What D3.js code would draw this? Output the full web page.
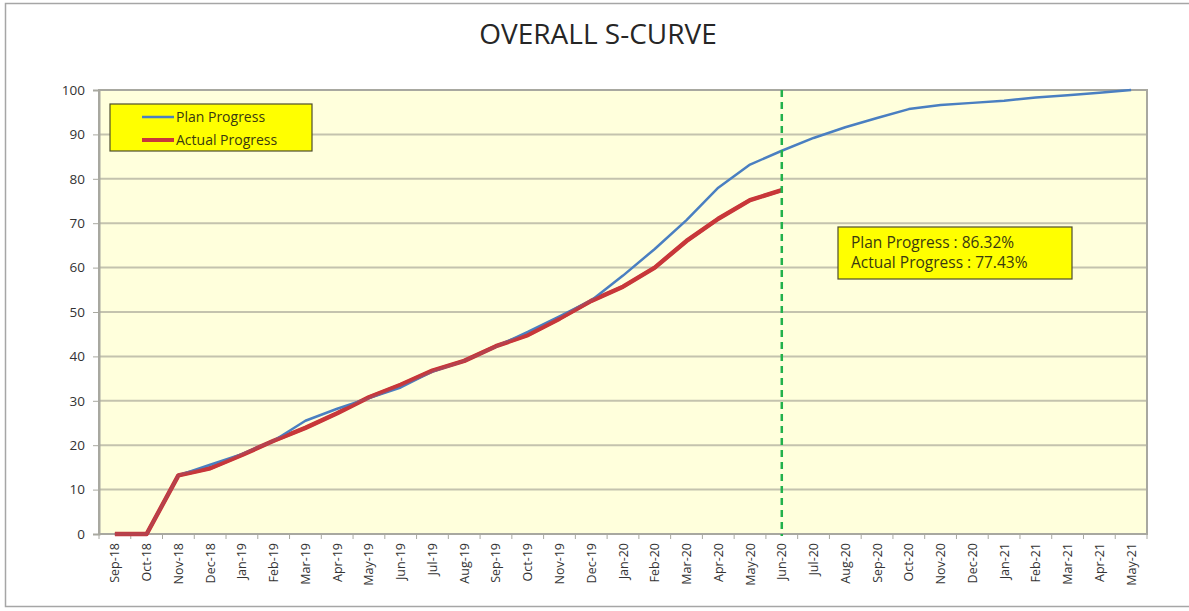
<!DOCTYPE html>
<html>
<head>
<meta charset="utf-8">
<script src="https://cdn.jsdelivr.net/npm/d3@7"></script>
<style>
  html, body { margin: 0; padding: 0; background: #fff; }
  svg { display: block; font-family: "Open Sans", "Liberation Sans", sans-serif; }
</style>
</head>
<body>
<svg id="chart" width="1189" height="611"></svg>
<script>
// Month categories on the x axis
const months = [
  "Sep-18","Oct-18","Nov-18","Dec-18","Jan-19","Feb-19","Mar-19","Apr-19","May-19",
  "Jun-19","Jul-19","Aug-19","Sep-19","Oct-19","Nov-19","Dec-19","Jan-20","Feb-20",
  "Mar-20","Apr-20","May-20","Jun-20","Jul-20","Aug-20","Sep-20","Oct-20","Nov-20",
  "Dec-20","Jan-21","Feb-21","Mar-21","Apr-21","May-21"
];

// Cumulative planned progress (%)
const planProgress = [
  0, 0, 13.2, 15.6, 18.0, 21.0, 25.5, 28.2, 30.6, 33.0, 36.6, 39.0,
  42.2, 45.5, 49.0, 52.6, 58.2, 64.2, 70.7, 78.0, 83.2, 86.32,
  89.2, 91.6, 93.7, 95.7, 96.6, 97.1, 97.6, 98.3, 98.8, 99.4, 100
];

// Cumulative actual progress (%), reported up to the cut-off month
const actualProgress = [
  0, 0, 13.2, 14.8, 17.8, 21.0, 23.9, 27.2, 30.8, 33.6, 36.8, 39.0,
  42.3, 44.8, 48.5, 52.5, 55.7, 60.0, 66.0, 71.0, 75.2, 77.43
];

const yTicks = [0, 10, 20, 30, 40, 50, 60, 70, 80, 90, 100];
const cutoffMonth = "Jun-20";
const seriesNames = ["Plan Progress", "Actual Progress"];
const summaryLines = [
  "Plan Progress : " + planProgress[months.indexOf(cutoffMonth)].toFixed(2) + "%",
  "Actual Progress : " + actualProgress[months.indexOf(cutoffMonth)].toFixed(2) + "%"
];

const svg = d3.select("#chart");
const W = 1189, H = 611;
const plot = { left: 99, top: 90, right: 1147, bottom: 534 };

// Outer chart frame
svg.append("rect")
  .attr("x", 5.5).attr("y", 3.5).attr("width", W).attr("height", 603)
  .attr("fill", "#fff").attr("stroke", "#a6a6a6").attr("stroke-width", 1.5);

// Title
svg.append("text")
  .attr("x", 598).attr("y", 44)
  .attr("text-anchor", "middle")
  .attr("font-size", 28)
  .attr("fill", "#262626")
  .text("OVERALL S-CURVE");

const x = d3.scaleBand().domain(months).range([plot.left, plot.right]).padding(0);
const xc = d => x(d) + x.bandwidth() / 2;
const y = d3.scaleLinear().domain([0, 100]).range([plot.bottom, plot.top]);

// Plot area background
svg.append("rect")
  .attr("x", plot.left).attr("y", plot.top)
  .attr("width", plot.right - plot.left).attr("height", plot.bottom - plot.top)
  .attr("fill", "#ffffdc");

// Horizontal gridlines
svg.append("g")
  .selectAll("line")
  .data(yTicks.filter(t => t > 0 && t < 100))
  .join("line")
  .attr("x1", plot.left).attr("x2", plot.right)
  .attr("y1", d => y(d)).attr("y2", d => y(d))
  .attr("stroke", "#c4c3ae").attr("stroke-width", 2);

// Plot area border
svg.append("rect")
  .attr("x", plot.left).attr("y", plot.top)
  .attr("width", plot.right - plot.left).attr("height", plot.bottom - plot.top)
  .attr("fill", "none").attr("stroke", "#a8a8a0").attr("stroke-width", 2);

// Y axis
const yAxis = svg.append("g")
  .attr("transform", `translate(${plot.left},0)`)
  .call(d3.axisLeft(y).tickValues(yTicks).tickSize(6).tickPadding(8));
yAxis.select(".domain").attr("stroke", "#a8a8a0").attr("stroke-width", 2);
yAxis.selectAll(".tick line").attr("stroke", "#a8a8a0");
yAxis.selectAll(".tick text")
  .attr("font-size", 13.5).attr("fill", "#333")
  .attr("font-family", "'Open Sans', sans-serif");

// X axis: ticks on category boundaries, labels rotated vertically
const xAxisG = svg.append("g").attr("transform", `translate(0,${plot.bottom})`);
xAxisG.append("line")
  .attr("x1", plot.left).attr("x2", plot.right)
  .attr("stroke", "#a8a8a0").attr("stroke-width", 2);
xAxisG.selectAll("line.tk")
  .data(months.concat(["__end"]))
  .join("line")
  .attr("class", "tk")
  .attr("x1", (d, i) => i < months.length ? x(d) : plot.right)
  .attr("x2", (d, i) => i < months.length ? x(d) : plot.right)
  .attr("y1", 0).attr("y2", 5)
  .attr("stroke", "#a8a8a0");
xAxisG.selectAll("text")
  .data(months)
  .join("text")
  .attr("transform", d => `translate(${xc(d) + 4.5},9) rotate(-90)`)
  .attr("text-anchor", "end")
  .attr("font-size", 12.5)
  .attr("fill", "#333")
  .text(d => d);

// Series lines
const line = d3.line()
  .x((d, i) => xc(months[i]))
  .y(d => y(d));

svg.append("path")
  .datum(actualProgress)
  .attr("d", line)
  .attr("fill", "none")
  .attr("stroke", "#c8373a")
  .attr("stroke-width", 4.5)
  .attr("stroke-linejoin", "round");

svg.append("path")
  .datum(planProgress)
  .attr("d", line)
  .attr("fill", "none")
  .attr("stroke", "#4a7fc1")
  .attr("stroke-width", 2.5)
  .attr("stroke-linejoin", "round");

// Redraw the actual line on top where both series coincide
svg.append("path")
  .datum(actualProgress)
  .attr("d", line)
  .attr("fill", "none")
  .attr("stroke", "#c8373a")
  .attr("stroke-width", 3.5)
  .attr("stroke-opacity", 0.85)
  .attr("stroke-linejoin", "round");

// Cut-off marker
svg.append("line")
  .attr("x1", xc(cutoffMonth)).attr("x2", xc(cutoffMonth))
  .attr("y1", plot.top).attr("y2", plot.bottom + 2)
  .attr("stroke", "#22b14c").attr("stroke-width", 2.5)
  .attr("stroke-dasharray", "7,5");

// Legend
const legend = svg.append("g").attr("transform", "translate(110,104)");
legend.append("rect")
  .attr("width", 202).attr("height", 47)
  .attr("fill", "#ffff00").attr("stroke", "#4d4d2e").attr("stroke-width", 1.2);
const legendColors = ["#4a7fc1", "#c8373a"];
const legendWidths = [2.5, 4];
seriesNames.forEach((name, i) => {
  const ly = 13 + i * 23;
  legend.append("line")
    .attr("x1", 32).attr("x2", 64).attr("y1", ly).attr("y2", ly)
    .attr("stroke", legendColors[i]).attr("stroke-width", legendWidths[i]);
  legend.append("text")
    .attr("x", 66).attr("y", ly + 5)
    .attr("font-size", 14).attr("fill", "#3a3a10")
    .text(name);
});

// Summary box
const note = svg.append("g").attr("transform", "translate(838,227)");
note.append("rect")
  .attr("width", 234).attr("height", 52)
  .attr("fill", "#ffff00").attr("stroke", "#4d4d2e").attr("stroke-width", 1.2);
note.selectAll("text")
  .data(summaryLines)
  .join("text")
  .attr("x", 13).attr("y", (d, i) => 21 + i * 20)
  .attr("font-size", 15.5).attr("fill", "#3a3a10")
  .text(d => d);
</script>
</body>
</html>
